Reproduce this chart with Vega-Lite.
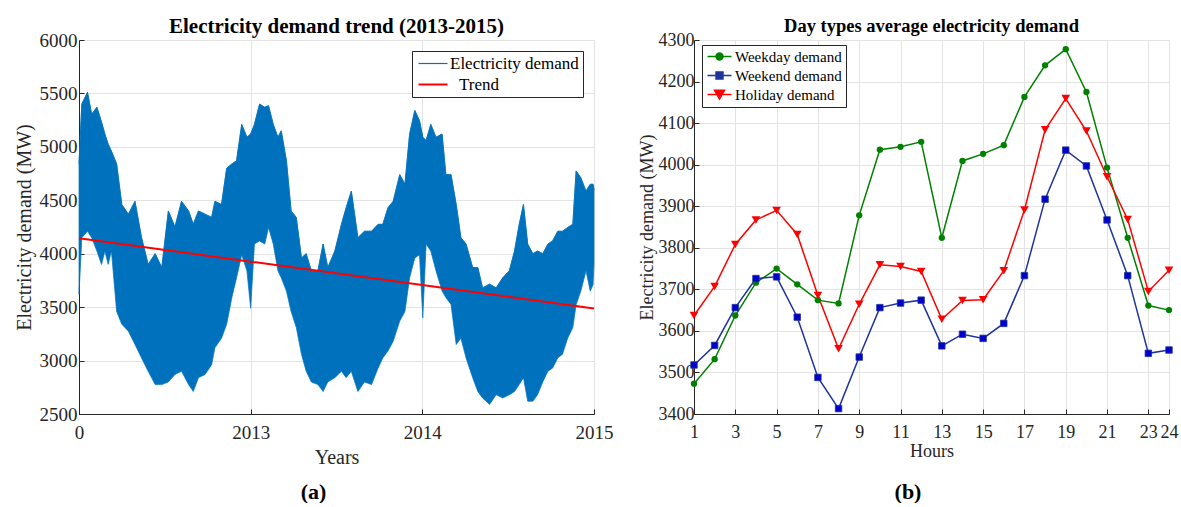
{
  "$schema": "https://vega.github.io/schema/vega-lite/v6.json",
  "background": "white",
  "padding": {"left": 13, "top": 15, "right": 0, "bottom": 0},
  "spacing": 23,
  "config": {
    "font": "Liberation Serif",
    "view": {"stroke": "#dadada", "strokeWidth": 1},
    "axis": {
      "labelFont": "Liberation Serif",
      "titleFont": "Liberation Serif",
      "titleFontWeight": "normal",
      "labelColor": "#262626",
      "titleColor": "#262626",
      "domainColor": "#262626",
      "tickColor": "#262626",
      "gridColor": "#e3e3e3",
      "tickSize": -5,
      "format": "d",
      "labelFlush": false,
      "labelOverlap": false
    },
    "title": {"font": "Liberation Serif", "fontWeight": "bold", "color": "#000000"},
    "legend": {"labelFont": "Liberation Serif", "labelColor": "#000000"}
  },
  "resolve": {
    "scale": {"color": "independent", "shape": "independent"},
    "legend": {"color": "independent", "shape": "independent"}
  },
  "hconcat": [
    {
      "title": {"text": "(a)", "orient": "bottom", "fontSize": 22, "anchor": "middle", "offset": 14},
      "vconcat": [
        {
          "width": 515,
          "height": 374,
          "title": {"text": "Electricity demand trend (2013-2015)", "fontSize": 21, "frame": "group", "anchor": "middle", "offset": -6},
          "encoding": {
            "x": {
              "field": "d",
              "type": "quantitative",
              "scale": {"domain": [0, 1095], "nice": false},
              "axis": {
                "values": [0, 365, 730, 1095],
                "labelExpr": "datum.value == 0 ? '0' : datum.value == 365 ? '2013' : datum.value == 730 ? '2014' : '2015'",
                "title": "Years",
                "labelFontSize": 19,
                "titleFontSize": 20,
                "labelPadding": 14,
                "titlePadding": 5,
                "grid": true
              }
            }
          },
          "layer": [
            {
              "data": {"name": "demand", "values": [
                {"d": 0, "lo": 3620, "hi": 4840},
                {"d": 6, "lo": 4150, "hi": 5400},
                {"d": 18, "lo": 4210, "hi": 5510},
                {"d": 27, "lo": 4150, "hi": 5306},
                {"d": 38, "lo": 4025, "hi": 5370},
                {"d": 48, "lo": 3900, "hi": 5230},
                {"d": 55, "lo": 4025, "hi": 5120},
                {"d": 62, "lo": 3900, "hi": 5025},
                {"d": 69, "lo": 4025, "hi": 4960},
                {"d": 80, "lo": 3460, "hi": 4840},
                {"d": 91, "lo": 3340, "hi": 4460},
                {"d": 105, "lo": 3275, "hi": 4370},
                {"d": 119, "lo": 3150, "hi": 4490},
                {"d": 133, "lo": 3025, "hi": 4150},
                {"d": 147, "lo": 2900, "hi": 3900},
                {"d": 162, "lo": 2775, "hi": 4000},
                {"d": 176, "lo": 2775, "hi": 3870},
                {"d": 190, "lo": 2800, "hi": 4400},
                {"d": 204, "lo": 2870, "hi": 4250},
                {"d": 218, "lo": 2900, "hi": 4490},
                {"d": 233, "lo": 2775, "hi": 4400},
                {"d": 243, "lo": 2710, "hi": 4275},
                {"d": 254, "lo": 2840, "hi": 4400},
                {"d": 268, "lo": 2870, "hi": 4370},
                {"d": 282, "lo": 2960, "hi": 4340},
                {"d": 289, "lo": 3120, "hi": 4490},
                {"d": 303, "lo": 3210, "hi": 4460},
                {"d": 314, "lo": 3340, "hi": 4800},
                {"d": 325, "lo": 3590, "hi": 4840},
                {"d": 335, "lo": 3775, "hi": 4870},
                {"d": 346, "lo": 3990, "hi": 5210},
                {"d": 357, "lo": 3840, "hi": 5090},
                {"d": 365, "lo": 3490, "hi": 5120},
                {"d": 373, "lo": 4090, "hi": 5210},
                {"d": 384, "lo": 4120, "hi": 5400},
                {"d": 395, "lo": 4090, "hi": 5370},
                {"d": 403, "lo": 4245, "hi": 5385},
                {"d": 413, "lo": 4090, "hi": 5210},
                {"d": 423, "lo": 3840, "hi": 5090},
                {"d": 430, "lo": 3775, "hi": 5150},
                {"d": 441, "lo": 3650, "hi": 4870},
                {"d": 451, "lo": 3460, "hi": 4400},
                {"d": 462, "lo": 3310, "hi": 4340},
                {"d": 473, "lo": 3060, "hi": 3960},
                {"d": 483, "lo": 2900, "hi": 4000},
                {"d": 494, "lo": 2800, "hi": 3840},
                {"d": 508, "lo": 2775, "hi": 3840},
                {"d": 519, "lo": 2710, "hi": 4090},
                {"d": 529, "lo": 2800, "hi": 3870},
                {"d": 544, "lo": 2840, "hi": 4025},
                {"d": 558, "lo": 2900, "hi": 4275},
                {"d": 568, "lo": 2840, "hi": 4430},
                {"d": 579, "lo": 2900, "hi": 4585},
                {"d": 593, "lo": 2710, "hi": 4150},
                {"d": 607, "lo": 2800, "hi": 4210},
                {"d": 622, "lo": 2775, "hi": 4210},
                {"d": 636, "lo": 2930, "hi": 4275},
                {"d": 646, "lo": 3025, "hi": 4275},
                {"d": 657, "lo": 3090, "hi": 4430},
                {"d": 668, "lo": 3180, "hi": 4490},
                {"d": 682, "lo": 3370, "hi": 4740},
                {"d": 693, "lo": 3460, "hi": 4650},
                {"d": 703, "lo": 3775, "hi": 5120},
                {"d": 714, "lo": 3960, "hi": 5340},
                {"d": 724, "lo": 3990, "hi": 5245},
                {"d": 731, "lo": 3400, "hi": 5090},
                {"d": 738, "lo": 4090, "hi": 5060},
                {"d": 748, "lo": 4025, "hi": 5210},
                {"d": 759, "lo": 3840, "hi": 5090},
                {"d": 772, "lo": 3650, "hi": 5120},
                {"d": 780, "lo": 3590, "hi": 4740},
                {"d": 791, "lo": 3525, "hi": 4740},
                {"d": 802, "lo": 3150, "hi": 4460},
                {"d": 812, "lo": 3210, "hi": 4150},
                {"d": 823, "lo": 3025, "hi": 4090},
                {"d": 837, "lo": 2840, "hi": 3870},
                {"d": 848, "lo": 2710, "hi": 3870},
                {"d": 858, "lo": 2650, "hi": 3680},
                {"d": 873, "lo": 2590, "hi": 3715},
                {"d": 887, "lo": 2680, "hi": 3680},
                {"d": 901, "lo": 2650, "hi": 3775},
                {"d": 915, "lo": 2680, "hi": 3840},
                {"d": 926, "lo": 2710, "hi": 4025},
                {"d": 936, "lo": 2775, "hi": 4275},
                {"d": 945, "lo": 2840, "hi": 4460},
                {"d": 954, "lo": 2620, "hi": 4090},
                {"d": 965, "lo": 2620, "hi": 4000},
                {"d": 975, "lo": 2680, "hi": 4025},
                {"d": 986, "lo": 2800, "hi": 4000},
                {"d": 997, "lo": 2900, "hi": 4090},
                {"d": 1007, "lo": 2930, "hi": 4120},
                {"d": 1018, "lo": 3025, "hi": 4210},
                {"d": 1028, "lo": 3060, "hi": 4210},
                {"d": 1039, "lo": 3210, "hi": 4245},
                {"d": 1050, "lo": 3310, "hi": 4275},
                {"d": 1057, "lo": 3525, "hi": 4775},
                {"d": 1067, "lo": 3650, "hi": 4710},
                {"d": 1078, "lo": 3840, "hi": 4585},
                {"d": 1087, "lo": 3650, "hi": 4650},
                {"d": 1093, "lo": 3710, "hi": 4650},
                {"d": 1095, "lo": 3900, "hi": 4600}
              ]},
              "mark": {"type": "area", "fill": "#0072BD", "stroke": "#0072BD", "strokeWidth": 0.7},
              "encoding": {
                "y": {
                  "field": "lo",
                  "type": "quantitative",
                  "scale": {"domain": [2500, 6000], "nice": false},
                  "axis": {
                    "values": [2500, 3000, 3500, 4000, 4500, 5000, 5500, 6000],
                    "title": "Electricity demand (MW)",
                    "labelFontSize": 19,
                    "titleFontSize": 20,
                    "labelPadding": 7,
                    "titlePadding": 5,
                    "grid": true
                  }
                },
                "y2": {"field": "hi"}
              }
            },
            {
              "data": {"name": "demand"},
              "mark": {"type": "line", "strokeWidth": 0.8},
              "encoding": {
                "y": {"field": "hi", "type": "quantitative"},
                "color": {
                  "datum": "Electricity demand",
                  "scale": {"domain": ["Electricity demand", "Trend"], "range": ["#0072BD", "#FF0000"]},
                  "legend": {
                    "title": null,
                    "orient": "none",
                    "legendX": 333,
                    "legendY": 11,
                    "symbolType": "M-1,0H3.83",
                    "symbolSize": 144,
                    "symbolOpacity": 1,
                    "labelFontSize": 17,
                    "labelOffset": 17,
                    "rowPadding": 3,
                    "padding": 4,
                    "strokeColor": "#262626",
                    "fillColor": "#ffffff",
                    "encode": {
                      "symbols": {
                        "update": {
                          "fill": {"value": "transparent"},
                          "strokeWidth": {"signal": "datum.value == 'Trend' ? 2 : 1.2"}
                        }
                      },
                      "labels": {
                        "update": {
                          "dx": {"signal": "datum.value == 'Trend' ? 9 : 0"}
                        }
                      }
                    }
                  }
                }
              }
            },
            {
              "data": {"values": [
                {"d": 0, "v": 4145},
                {"d": 1095, "v": 3487}
              ]},
              "mark": {"type": "line", "strokeWidth": 2},
              "encoding": {
                "y": {"field": "v", "type": "quantitative"},
                "color": {"datum": "Trend"}
              }
            }
          ]
        }
      ]
    },
    {
      "title": {"text": "(b)", "orient": "bottom", "fontSize": 22, "anchor": "middle", "offset": 21},
      "vconcat": [
        {
          "width": 475,
          "height": 374,
          "title": {"text": "Day types average electricity demand", "fontSize": 18.5, "frame": "group", "anchor": "middle", "offset": -4.5},
          "data": {"values": [
            {"h": 1, "t": "Weekday demand", "v": 3473}, {"h": 2, "t": "Weekday demand", "v": 3532},
            {"h": 3, "t": "Weekday demand", "v": 3637}, {"h": 4, "t": "Weekday demand", "v": 3716},
            {"h": 5, "t": "Weekday demand", "v": 3750}, {"h": 6, "t": "Weekday demand", "v": 3712},
            {"h": 7, "t": "Weekday demand", "v": 3674}, {"h": 8, "t": "Weekday demand", "v": 3666},
            {"h": 9, "t": "Weekday demand", "v": 3878}, {"h": 10, "t": "Weekday demand", "v": 4036},
            {"h": 11, "t": "Weekday demand", "v": 4043}, {"h": 12, "t": "Weekday demand", "v": 4055},
            {"h": 13, "t": "Weekday demand", "v": 3824}, {"h": 14, "t": "Weekday demand", "v": 4009},
            {"h": 15, "t": "Weekday demand", "v": 4026}, {"h": 16, "t": "Weekday demand", "v": 4047},
            {"h": 17, "t": "Weekday demand", "v": 4163}, {"h": 18, "t": "Weekday demand", "v": 4239},
            {"h": 19, "t": "Weekday demand", "v": 4278}, {"h": 20, "t": "Weekday demand", "v": 4175},
            {"h": 21, "t": "Weekday demand", "v": 3993}, {"h": 22, "t": "Weekday demand", "v": 3824},
            {"h": 23, "t": "Weekday demand", "v": 3661}, {"h": 24, "t": "Weekday demand", "v": 3650},
            {"h": 1, "t": "Weekend demand", "v": 3518}, {"h": 2, "t": "Weekend demand", "v": 3565},
            {"h": 3, "t": "Weekend demand", "v": 3656}, {"h": 4, "t": "Weekend demand", "v": 3726},
            {"h": 5, "t": "Weekend demand", "v": 3730}, {"h": 6, "t": "Weekend demand", "v": 3633},
            {"h": 7, "t": "Weekend demand", "v": 3488}, {"h": 8, "t": "Weekend demand", "v": 3413},
            {"h": 9, "t": "Weekend demand", "v": 3537}, {"h": 10, "t": "Weekend demand", "v": 3656},
            {"h": 11, "t": "Weekend demand", "v": 3667}, {"h": 12, "t": "Weekend demand", "v": 3674},
            {"h": 13, "t": "Weekend demand", "v": 3564}, {"h": 14, "t": "Weekend demand", "v": 3592},
            {"h": 15, "t": "Weekend demand", "v": 3582}, {"h": 16, "t": "Weekend demand", "v": 3618},
            {"h": 17, "t": "Weekend demand", "v": 3733}, {"h": 18, "t": "Weekend demand", "v": 3917},
            {"h": 19, "t": "Weekend demand", "v": 4035}, {"h": 20, "t": "Weekend demand", "v": 3997},
            {"h": 21, "t": "Weekend demand", "v": 3867}, {"h": 22, "t": "Weekend demand", "v": 3733},
            {"h": 23, "t": "Weekend demand", "v": 3546}, {"h": 24, "t": "Weekend demand", "v": 3554},
            {"h": 1, "t": "Holiday demand", "v": 3637}, {"h": 2, "t": "Holiday demand", "v": 3707},
            {"h": 3, "t": "Holiday demand", "v": 3808}, {"h": 4, "t": "Holiday demand", "v": 3867},
            {"h": 5, "t": "Holiday demand", "v": 3890}, {"h": 6, "t": "Holiday demand", "v": 3832},
            {"h": 7, "t": "Holiday demand", "v": 3685}, {"h": 8, "t": "Holiday demand", "v": 3557},
            {"h": 9, "t": "Holiday demand", "v": 3664}, {"h": 10, "t": "Holiday demand", "v": 3759},
            {"h": 11, "t": "Holiday demand", "v": 3755}, {"h": 12, "t": "Holiday demand", "v": 3743},
            {"h": 13, "t": "Holiday demand", "v": 3628}, {"h": 14, "t": "Holiday demand", "v": 3673},
            {"h": 15, "t": "Holiday demand", "v": 3675}, {"h": 16, "t": "Holiday demand", "v": 3745},
            {"h": 17, "t": "Holiday demand", "v": 3891}, {"h": 18, "t": "Holiday demand", "v": 4084},
            {"h": 19, "t": "Holiday demand", "v": 4159}, {"h": 20, "t": "Holiday demand", "v": 4081},
            {"h": 21, "t": "Holiday demand", "v": 3971}, {"h": 22, "t": "Holiday demand", "v": 3868},
            {"h": 23, "t": "Holiday demand", "v": 3695}, {"h": 24, "t": "Holiday demand", "v": 3746}
          ]},
          "encoding": {
            "x": {
              "field": "h",
              "type": "quantitative",
              "scale": {"domain": [1, 24], "nice": false},
              "axis": {
                "values": [1, 3, 5, 7, 9, 11, 13, 15, 17, 19, 21, 23, 24],
                "title": "Hours",
                "labelFontSize": 18,
                "titleFontSize": 18,
                "labelPadding": 14,
                "titlePadding": 1,
                "grid": true
              }
            },
            "y": {
              "field": "v",
              "type": "quantitative",
              "scale": {"domain": [3400, 4300], "nice": false},
              "axis": {
                "values": [3400, 3500, 3600, 3700, 3800, 3900, 4000, 4100, 4200, 4300],
                "title": "Electricity demand (MW)",
                "labelFontSize": 18,
                "titleFontSize": 18,
                "labelPadding": 5,
                "titlePadding": 2,
                "grid": true
              }
            }
          },
          "layer": [
            {
              "transform": [{"filter": "datum.t == 'Weekday demand'"}],
              "mark": {"type": "line", "strokeWidth": 1.5, "color": "#008000"}
            },
            {
              "transform": [{"filter": "datum.t == 'Weekend demand'"}],
              "mark": {"type": "line", "strokeWidth": 1.5, "color": "#1f3399"}
            },
            {
              "transform": [{"filter": "datum.t == 'Holiday demand'"}],
              "mark": {"type": "line", "strokeWidth": 1.5, "color": "#FF0000"}
            },
            {
              "transform": [{"filter": "datum.t == 'Weekday demand'"}],
              "mark": {"type": "point", "shape": "circle", "filled": true, "color": "#008000", "size": 40, "opacity": 1}
            },
            {
              "transform": [{"filter": "datum.t == 'Weekend demand'"}],
              "mark": {"type": "point", "shape": "square", "filled": true, "fill": "#0000CC", "stroke": "#1f3399", "strokeWidth": 0.8, "size": 42, "opacity": 1}
            },
            {
              "transform": [{"filter": "datum.t == 'Holiday demand'"}],
              "mark": {"type": "point", "shape": "triangle-down", "filled": true, "color": "#FF0000", "size": 75, "opacity": 1}
            },
            {
              "mark": {"type": "point", "filled": true, "opacity": 0},
              "encoding": {
                "color": {
                  "field": "t",
                  "type": "nominal",
                  "scale": {"domain": ["Weekday demand", "Weekend demand", "Holiday demand"], "range": ["#008000", "#1f3399", "#FF0000"]},
                  "legend": {
                    "title": null, "orient": "none", "legendX": 8, "legendY": 5,
                    "symbolSize": 144, "symbolOpacity": 1,
                    "labelFontSize": 15, "labelOffset": 14, "rowPadding": 3, "padding": 4,
                    "strokeColor": "#262626", "fillColor": "#ffffff",
                    "encode": {
                      "symbols": {
                        "update": {
                          "stroke": {"signal": "datum.value == 'Weekday demand' ? '#008000' : datum.value == 'Weekend demand' ? '#1f3399' : '#FF0000'"},
                          "fill": {"signal": "datum.value == 'Weekday demand' ? '#008000' : datum.value == 'Weekend demand' ? '#0000CC' : '#FF0000'"},
                          "strokeWidth": {"value": 1.5},
                          "opacity": {"value": 1}
                        }
                      }
                    }
                  }
                },
                "shape": {
                  "field": "t",
                  "type": "nominal",
                  "scale": {
                    "domain": ["Weekday demand", "Weekend demand", "Holiday demand"],
                    "range": [
                      "M-1,0H3M1.58,0A0.58,0.58 0 1,1 0.42,0A0.58,0.58 0 1,1 1.58,0Z",
                      "M-1,0H3M0.42,-0.58H1.58V0.58H0.42Z",
                      "M-1,0H3M0.17,-0.7H1.83L1,0.75Z"
                    ]
                  },
                  "legend": {
                    "title": null, "orient": "none", "legendX": 8, "legendY": 5,
                    "symbolSize": 144, "symbolOpacity": 1,
                    "labelFontSize": 15, "labelOffset": 14, "rowPadding": 3, "padding": 4,
                    "strokeColor": "#262626", "fillColor": "#ffffff"
                  }
                }
              }
            }
          ]
        }
      ]
    }
  ]
}
